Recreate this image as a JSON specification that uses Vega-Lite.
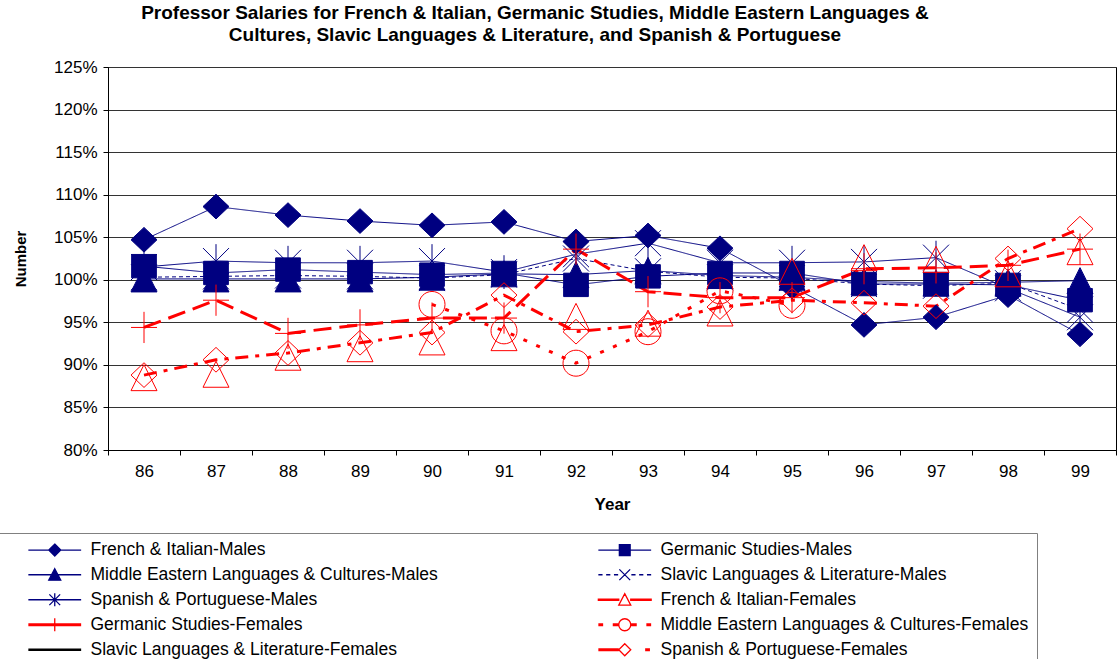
{
  "$schema": "https://vega.github.io/schema/vega-lite/v6.json",
  "width": 1008,
  "height": 383,
  "autosize": {"type": "none"},
  "padding": {"left": 108, "top": 67, "right": 4, "bottom": 209},
  "background": "white",
  "config": {
    "font": "Liberation Sans",
    "view": {"stroke": "#000000", "strokeWidth": 1}
  },
  "title": {
    "text": ["Professor Salaries for French & Italian, Germanic Studies, Middle Eastern Languages &", "Cultures, Slavic Languages & Literature, and Spanish & Portuguese"],
    "font": "Liberation Sans",
    "fontSize": 19,
    "fontWeight": "bold",
    "color": "#000000",
    "anchor": "middle",
    "frame": "group",
    "dx": -77,
    "offset": 13,
    "lineHeight": 22
  },
  "data": {
    "values": [
      {"s": "French & Italian-Males", "y": "86", "v": 104.7},
      {"s": "French & Italian-Males", "y": "87", "v": 108.6},
      {"s": "French & Italian-Males", "y": "88", "v": 107.6},
      {"s": "French & Italian-Males", "y": "89", "v": 106.9},
      {"s": "French & Italian-Males", "y": "90", "v": 106.4},
      {"s": "French & Italian-Males", "y": "91", "v": 106.8},
      {"s": "French & Italian-Males", "y": "92", "v": 104.5},
      {"s": "French & Italian-Males", "y": "93", "v": 105.2},
      {"s": "French & Italian-Males", "y": "94", "v": 103.7},
      {"s": "French & Italian-Males", "y": "95", "v": 99.2},
      {"s": "French & Italian-Males", "y": "96", "v": 94.7},
      {"s": "French & Italian-Males", "y": "97", "v": 95.6},
      {"s": "French & Italian-Males", "y": "98", "v": 98.2},
      {"s": "French & Italian-Males", "y": "99", "v": 93.6},
      {"s": "Germanic Studies-Males", "y": "86", "v": 101.6},
      {"s": "Germanic Studies-Males", "y": "87", "v": 100.8},
      {"s": "Germanic Studies-Males", "y": "88", "v": 101.2},
      {"s": "Germanic Studies-Males", "y": "89", "v": 100.9},
      {"s": "Germanic Studies-Males", "y": "90", "v": 100.6},
      {"s": "Germanic Studies-Males", "y": "91", "v": 100.8},
      {"s": "Germanic Studies-Males", "y": "92", "v": 99.4},
      {"s": "Germanic Studies-Males", "y": "93", "v": 100.4},
      {"s": "Germanic Studies-Males", "y": "94", "v": 100.8},
      {"s": "Germanic Studies-Males", "y": "95", "v": 100.8},
      {"s": "Germanic Studies-Males", "y": "96", "v": 99.5},
      {"s": "Germanic Studies-Males", "y": "97", "v": 99.5},
      {"s": "Germanic Studies-Males", "y": "98", "v": 99.4},
      {"s": "Germanic Studies-Males", "y": "99", "v": 97.6},
      {"s": "Middle Eastern Languages & Cultures-Males", "y": "86", "v": 100.1},
      {"s": "Middle Eastern Languages & Cultures-Males", "y": "87", "v": 100.1},
      {"s": "Middle Eastern Languages & Cultures-Males", "y": "88", "v": 100.1},
      {"s": "Middle Eastern Languages & Cultures-Males", "y": "89", "v": 100.1},
      {"s": "Middle Eastern Languages & Cultures-Males", "y": "90", "v": 100.3},
      {"s": "Middle Eastern Languages & Cultures-Males", "y": "91", "v": 100.7},
      {"s": "Middle Eastern Languages & Cultures-Males", "y": "92", "v": 100.6},
      {"s": "Middle Eastern Languages & Cultures-Males", "y": "93", "v": 101.1},
      {"s": "Middle Eastern Languages & Cultures-Males", "y": "94", "v": 100.5},
      {"s": "Middle Eastern Languages & Cultures-Males", "y": "95", "v": 100.3},
      {"s": "Middle Eastern Languages & Cultures-Males", "y": "96", "v": 99.8},
      {"s": "Middle Eastern Languages & Cultures-Males", "y": "97", "v": 99.6},
      {"s": "Middle Eastern Languages & Cultures-Males", "y": "98", "v": 99.7},
      {"s": "Middle Eastern Languages & Cultures-Males", "y": "99", "v": 99.9},
      {"s": "Slavic Languages & Literature-Males", "y": "86", "v": 100.3},
      {"s": "Slavic Languages & Literature-Males", "y": "87", "v": 100.4},
      {"s": "Slavic Languages & Literature-Males", "y": "88", "v": 100.5},
      {"s": "Slavic Languages & Literature-Males", "y": "89", "v": 100.4},
      {"s": "Slavic Languages & Literature-Males", "y": "90", "v": 100.2},
      {"s": "Slavic Languages & Literature-Males", "y": "91", "v": 100.6},
      {"s": "Slavic Languages & Literature-Males", "y": "92", "v": 102.5},
      {"s": "Slavic Languages & Literature-Males", "y": "93", "v": 101.0},
      {"s": "Slavic Languages & Literature-Males", "y": "94", "v": 100.3},
      {"s": "Slavic Languages & Literature-Males", "y": "95", "v": 100.2},
      {"s": "Slavic Languages & Literature-Males", "y": "96", "v": 99.5},
      {"s": "Slavic Languages & Literature-Males", "y": "97", "v": 99.3},
      {"s": "Slavic Languages & Literature-Males", "y": "98", "v": 99.6},
      {"s": "Slavic Languages & Literature-Males", "y": "99", "v": 96.5},
      {"s": "Spanish & Portuguese-Males", "y": "86", "v": 101.5},
      {"s": "Spanish & Portuguese-Males", "y": "87", "v": 102.2},
      {"s": "Spanish & Portuguese-Males", "y": "88", "v": 102.0},
      {"s": "Spanish & Portuguese-Males", "y": "89", "v": 102.0},
      {"s": "Spanish & Portuguese-Males", "y": "90", "v": 102.2},
      {"s": "Spanish & Portuguese-Males", "y": "91", "v": 100.9},
      {"s": "Spanish & Portuguese-Males", "y": "92", "v": 103.0},
      {"s": "Spanish & Portuguese-Males", "y": "93", "v": 104.3},
      {"s": "Spanish & Portuguese-Males", "y": "94", "v": 102.0},
      {"s": "Spanish & Portuguese-Males", "y": "95", "v": 102.0},
      {"s": "Spanish & Portuguese-Males", "y": "96", "v": 102.1},
      {"s": "Spanish & Portuguese-Males", "y": "97", "v": 102.6},
      {"s": "Spanish & Portuguese-Males", "y": "98", "v": 99.0},
      {"s": "Spanish & Portuguese-Males", "y": "99", "v": 95.6},
      {"s": "French & Italian-Females", "y": "86", "v": 88.5},
      {"s": "French & Italian-Females", "y": "87", "v": 88.9},
      {"s": "French & Italian-Females", "y": "88", "v": 90.9},
      {"s": "French & Italian-Females", "y": "89", "v": 91.9},
      {"s": "French & Italian-Females", "y": "90", "v": 92.7},
      {"s": "French & Italian-Females", "y": "91", "v": 93.2},
      {"s": "French & Italian-Females", "y": "92", "v": 95.7},
      {"s": "French & Italian-Females", "y": "93", "v": 94.9},
      {"s": "French & Italian-Females", "y": "94", "v": 96.1},
      {"s": "French & Italian-Females", "y": "95", "v": 101.0},
      {"s": "French & Italian-Females", "y": "96", "v": 102.6},
      {"s": "French & Italian-Females", "y": "97", "v": 102.4},
      {"s": "French & Italian-Females", "y": "98", "v": 100.7},
      {"s": "French & Italian-Females", "y": "99", "v": 103.3},
      {"s": "Germanic Studies-Females", "y": "86", "v": 94.4},
      {"s": "Germanic Studies-Females", "y": "87", "v": 97.6},
      {"s": "Germanic Studies-Females", "y": "88", "v": 93.7},
      {"s": "Germanic Studies-Females", "y": "89", "v": 94.7},
      {"s": "Germanic Studies-Females", "y": "90", "v": 95.5},
      {"s": "Germanic Studies-Females", "y": "91", "v": 95.5},
      {"s": "Germanic Studies-Females", "y": "92", "v": 103.6},
      {"s": "Germanic Studies-Females", "y": "93", "v": 98.6},
      {"s": "Germanic Studies-Females", "y": "94", "v": 97.9},
      {"s": "Germanic Studies-Females", "y": "95", "v": 97.9},
      {"s": "Germanic Studies-Females", "y": "96", "v": 101.3},
      {"s": "Germanic Studies-Females", "y": "97", "v": 101.4},
      {"s": "Germanic Studies-Females", "y": "98", "v": 101.7},
      {"s": "Germanic Studies-Females", "y": "99", "v": 103.6},
      {"s": "Middle Eastern Languages & Cultures-Females", "y": "90", "v": 97.1},
      {"s": "Middle Eastern Languages & Cultures-Females", "y": "91", "v": 94.0},
      {"s": "Middle Eastern Languages & Cultures-Females", "y": "92", "v": 90.2},
      {"s": "Middle Eastern Languages & Cultures-Females", "y": "93", "v": 93.9},
      {"s": "Middle Eastern Languages & Cultures-Females", "y": "94", "v": 98.7},
      {"s": "Middle Eastern Languages & Cultures-Females", "y": "95", "v": 97.0},
      {"s": "Spanish & Portuguese-Females", "y": "86", "v": 88.8},
      {"s": "Spanish & Portuguese-Females", "y": "87", "v": 90.6},
      {"s": "Spanish & Portuguese-Females", "y": "88", "v": 91.4},
      {"s": "Spanish & Portuguese-Females", "y": "89", "v": 92.6},
      {"s": "Spanish & Portuguese-Females", "y": "90", "v": 93.8},
      {"s": "Spanish & Portuguese-Females", "y": "91", "v": 98.2},
      {"s": "Spanish & Portuguese-Females", "y": "92", "v": 93.9},
      {"s": "Spanish & Portuguese-Females", "y": "93", "v": 94.7},
      {"s": "Spanish & Portuguese-Females", "y": "94", "v": 96.8},
      {"s": "Spanish & Portuguese-Females", "y": "95", "v": 97.6},
      {"s": "Spanish & Portuguese-Females", "y": "96", "v": 97.3},
      {"s": "Spanish & Portuguese-Females", "y": "97", "v": 96.9},
      {"s": "Spanish & Portuguese-Females", "y": "98", "v": 102.5},
      {"s": "Spanish & Portuguese-Females", "y": "99", "v": 106.0}
    ]
  },
  "encoding": {
    "x": {
      "field": "y",
      "type": "ordinal",
      "bandPosition": 0.5,
      "scale": {"type": "band", "paddingInner": 0, "paddingOuter": 0, "domain": ["86","87","88","89","90","91","92","93","94","95","96","97","98","99"]},
      "axis": {
        "title": "Year",
        "titleFont": "Liberation Sans",
        "titleFontSize": 17,
        "titleFontWeight": "bold",
        "titleColor": "#000000",
        "titlePadding": 17,
        "labelFont": "Liberation Sans",
        "labelFontSize": 17,
        "labelColor": "#000000",
        "labelAngle": 0,
        "labelPadding": 8,
        "tickBand": "extent",
        "ticks": true,
        "tickSize": 5,
        "tickColor": "#000000",
        "domainColor": "#000000",
        "grid": false
      }
    },
    "y": {
      "field": "v",
      "type": "quantitative",
      "scale": {"domain": [80, 125], "nice": false, "zero": false},
      "axis": {
        "title": "Number",
        "titleFont": "Liberation Sans",
        "titleFontSize": 15,
        "titleFontWeight": "bold",
        "titleColor": "#000000",
        "titlePadding": 25,
        "values": [80, 85, 90, 95, 100, 105, 110, 115, 120, 125],
        "labelExpr": "datum.value + '%'",
        "labelFont": "Liberation Sans",
        "labelFontSize": 17,
        "labelColor": "#000000",
        "labelPadding": 6,
        "tickSize": 5,
        "tickColor": "#000000",
        "domainColor": "#000000",
        "grid": true,
        "gridColor": "#333333",
        "gridWidth": 1.2
      }
    }
  },
  "layer": [
    {
      "transform": [{"filter": "indexof(datum.s, '-Males') >= 0"}],
      "mark": {"type": "line", "opacity": 1, "strokeWidth": 1},
      "encoding": {
        "color": {
          "field": "s",
          "type": "nominal",
          "legend": null,
          "scale": {
            "domain": ["French & Italian-Males", "Germanic Studies-Males", "Middle Eastern Languages & Cultures-Males", "Slavic Languages & Literature-Males", "Spanish & Portuguese-Males", "French & Italian-Females", "Germanic Studies-Females", "Middle Eastern Languages & Cultures-Females", "Slavic Languages & Literature-Females", "Spanish & Portuguese-Females"],
            "range": ["#000080", "#000080", "#000080", "#000080", "#000080", "transparent", "#FF0000", "#FF0000", "#000000", "#FF0000"]
          }
        },
        "strokeDash": {
          "field": "s",
          "type": "nominal",
          "legend": null,
          "scale": {
            "domain": ["French & Italian-Males", "Germanic Studies-Males", "Middle Eastern Languages & Cultures-Males", "Slavic Languages & Literature-Males", "Spanish & Portuguese-Males", "French & Italian-Females", "Germanic Studies-Females", "Middle Eastern Languages & Cultures-Females", "Slavic Languages & Literature-Females", "Spanish & Portuguese-Females"],
            "range": [[1, 0], [1, 0], [1, 0], [4, 3], [1, 0], [1, 0], [18, 8], [4, 10], [1, 0], [13, 7, 4, 7]]
          }
        }
      }
    },
    {
      "transform": [{"filter": "indexof(datum.s, '-Females') >= 0"}],
      "mark": {"type": "line", "opacity": 1, "strokeWidth": 3},
      "encoding": {
        "color": {
          "field": "s",
          "type": "nominal",
          "legend": null,
          "scale": {
            "domain": ["French & Italian-Males", "Germanic Studies-Males", "Middle Eastern Languages & Cultures-Males", "Slavic Languages & Literature-Males", "Spanish & Portuguese-Males", "French & Italian-Females", "Germanic Studies-Females", "Middle Eastern Languages & Cultures-Females", "Slavic Languages & Literature-Females", "Spanish & Portuguese-Females"],
            "range": ["#000080", "#000080", "#000080", "#000080", "#000080", "transparent", "#FF0000", "#FF0000", "#000000", "#FF0000"]
          }
        },
        "strokeDash": {
          "field": "s",
          "type": "nominal",
          "legend": null,
          "scale": {
            "domain": ["French & Italian-Males", "Germanic Studies-Males", "Middle Eastern Languages & Cultures-Males", "Slavic Languages & Literature-Males", "Spanish & Portuguese-Males", "French & Italian-Females", "Germanic Studies-Females", "Middle Eastern Languages & Cultures-Females", "Slavic Languages & Literature-Females", "Spanish & Portuguese-Females"],
            "range": [[1, 0], [1, 0], [1, 0], [4, 3], [1, 0], [1, 0], [18, 8], [4, 10], [1, 0], [13, 7, 4, 7]]
          }
        }
      }
    },
    {
      "mark": {"type": "point", "opacity": 1, "size": 676, "strokeWidth": 1},
      "encoding": {
        "shape": {
          "field": "s",
          "type": "nominal",
          "legend": null,
          "scale": {
            "domain": ["French & Italian-Males", "Germanic Studies-Males", "Middle Eastern Languages & Cultures-Males", "Slavic Languages & Literature-Males", "Spanish & Portuguese-Males", "French & Italian-Females", "Germanic Studies-Females", "Middle Eastern Languages & Cultures-Females", "Slavic Languages & Literature-Females", "Spanish & Portuguese-Females"],
            "range": [
              "M0,-0.95L1,0L0,0.95L-1,0Z",
              "M-0.95,-0.9H0.95V0.9H-0.95Z",
              "M0,-1L1,1H-1Z",
              "M-1,-1L1,1M-1,1L1,-1",
              "M-1,-1L1,1M-1,1L1,-1M0,-1.3V1.3",
              "M0,-1L1,1H-1Z",
              "M-1,0H1M0,-1.2V1.2",
              "M1,0A1,1 0 1,1 -1,0A1,1 0 1,1 1,0Z",
              "M0,0",
              "M0,-0.95L1,0L0,0.95L-1,0Z"
            ]
          }
        },
        "fill": {
          "field": "s",
          "type": "nominal",
          "legend": null,
          "scale": {
            "domain": ["French & Italian-Males", "Germanic Studies-Males", "Middle Eastern Languages & Cultures-Males", "Slavic Languages & Literature-Males", "Spanish & Portuguese-Males", "French & Italian-Females", "Germanic Studies-Females", "Middle Eastern Languages & Cultures-Females", "Slavic Languages & Literature-Females", "Spanish & Portuguese-Females"],
            "range": ["#000080", "#000080", "#000080", "transparent", "transparent", "transparent", "transparent", "transparent", "transparent", "transparent"]
          }
        },
        "stroke": {
          "field": "s",
          "type": "nominal",
          "legend": null,
          "scale": {
            "domain": ["French & Italian-Males", "Germanic Studies-Males", "Middle Eastern Languages & Cultures-Males", "Slavic Languages & Literature-Males", "Spanish & Portuguese-Males", "French & Italian-Females", "Germanic Studies-Females", "Middle Eastern Languages & Cultures-Females", "Slavic Languages & Literature-Females", "Spanish & Portuguese-Females"],
            "range": ["#000080", "#000080", "#000080", "#000080", "#000080", "#FF0000", "#FF0000", "#FF0000", "#000000", "#FF0000"]
          }
        }
      }
    },
    {
      "transform": [{"filter": "datum.v > 1000"}],
      "mark": {"type": "point", "opacity": 1, "size": 144, "strokeWidth": 1.3},
      "encoding": {
        "shape": {
          "field": "s",
          "type": "nominal",
          "scale": {
            "domain": ["French & Italian-Males", "Middle Eastern Languages & Cultures-Males", "Spanish & Portuguese-Males", "Germanic Studies-Females", "Slavic Languages & Literature-Females", "Germanic Studies-Males", "Slavic Languages & Literature-Males", "French & Italian-Females", "Middle Eastern Languages & Cultures-Females", "Spanish & Portuguese-Females"],
            "range": [
              "M-4.4,0H4.4M0,-1L1,0L0,1L-1,0Z",
              "M-4.4,0H4.4M0,-1L1,0.9H-1Z",
              "M-4.4,0H4.4M-0.9,-0.9L0.9,0.9M-0.9,0.9L0.9,-0.9M0,-1.1V1.1",
              "M-4.4,-0.13H4.4M-4.4,0H4.4M-4.4,0.13H4.4M0,-1.1V1.1",
              "M-4.4,-0.1H4.4M-4.4,0.1H4.4",
              "M-4.4,0H4.4M-0.9,-0.9H0.9V0.9H-0.9Z",
              "M-4.4,0H-3.7M-3.1,0H-2.4M-1.8,0H-1.1M1.1,0H1.8M2.4,0H3.1M3.7,0H4.4M-0.9,-0.9L0.9,0.9M-0.9,0.9L0.9,-0.9",
              "M-4.4,-0.08H-1V0.08H-4.4ZM1,-0.08H4.4V0.08H1ZM0,-1L1,0.9L-1,0.9ZM0,-1L-1,0.9L1,0.9Z",
              "M-4.4,-0.13H-3.6M-4.4,0H-3.6M-4.4,0.13H-3.6M-2,-0.13H-1M-2,0H-1M-2,0.13H-1M1,-0.13H2M1,0H2M1,0.13H2M3.6,-0.13H4.4M3.6,0H4.4M3.6,0.13H4.4M1,0A1,1 0 1,1 -1,0A1,1 0 1,1 1,0Z",
              "M-4.4,-0.13H-1M-4.4,0H-1M-4.4,0.13H-1M3.4,-0.13H4.2M3.4,0H4.2M3.4,0.13H4.2M0,-1L1,0L0,1L-1,0Z"
            ]
          },
          "legend": {
            "title": null,
            "orient": "none",
            "legendX": -110,
            "legendY": 466,
            "direction": "vertical",
            "columns": 2,
            "columnPadding": 138,
            "rowPadding": 6,
            "padding": 8,
            "strokeColor": "#808080",
            "fillColor": "white",
            "symbolSize": 144,
            "symbolOffset": 40,
            "symbolStrokeWidth": 1.3,
            "symbolOpacity": 1,
            "labelOffset": 27,
            "labelFont": "Liberation Sans",
            "labelFontSize": 17.5,
            "labelColor": "#000000",
            "labelLimit": 500
          }
        },
        "fill": {
          "field": "s",
          "type": "nominal",
          "scale": {
            "domain": ["French & Italian-Males", "Middle Eastern Languages & Cultures-Males", "Spanish & Portuguese-Males", "Germanic Studies-Females", "Slavic Languages & Literature-Females", "Germanic Studies-Males", "Slavic Languages & Literature-Males", "French & Italian-Females", "Middle Eastern Languages & Cultures-Females", "Spanish & Portuguese-Females"],
            "range": ["#000080", "#000080", "#000080", "transparent", "transparent", "#000080", "transparent", "#000000", "transparent", "transparent"]
          }
        },
        "stroke": {
          "field": "s",
          "type": "nominal",
          "scale": {
            "domain": ["French & Italian-Males", "Middle Eastern Languages & Cultures-Males", "Spanish & Portuguese-Males", "Germanic Studies-Females", "Slavic Languages & Literature-Females", "Germanic Studies-Males", "Slavic Languages & Literature-Males", "French & Italian-Females", "Middle Eastern Languages & Cultures-Females", "Spanish & Portuguese-Females"],
            "range": ["#000080", "#000080", "#000080", "#FF0000", "#000000", "#000080", "#000080", "#FF0000", "#FF0000", "#FF0000"]
          }
        }
      }
    }
  ],
  "resolve": {
    "scale": {"shape": "independent", "fill": "independent", "stroke": "independent"},
    "legend": {"shape": "independent", "fill": "independent", "stroke": "independent"}
  }
}
